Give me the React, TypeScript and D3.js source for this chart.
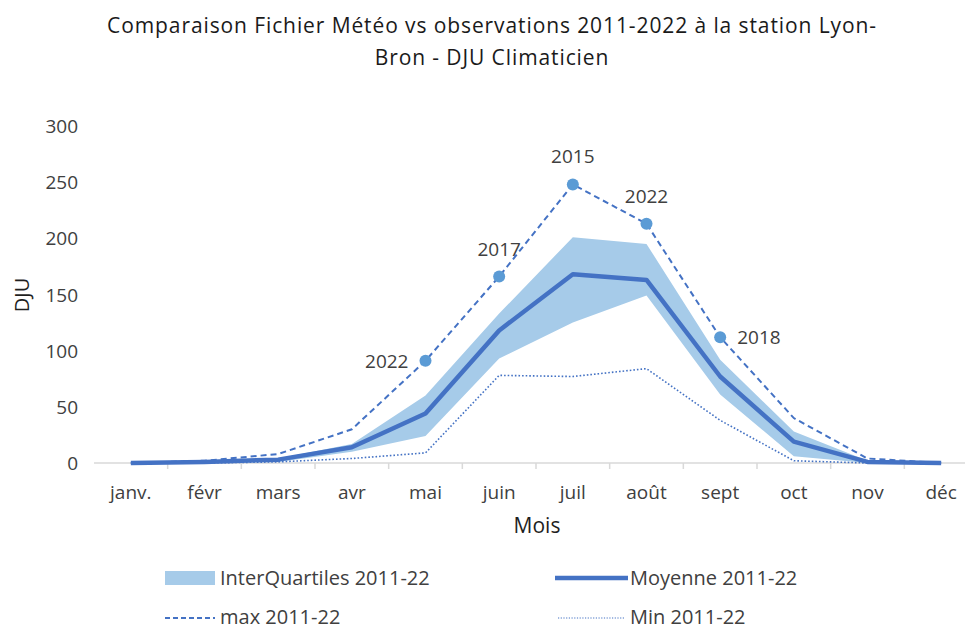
import React, { useEffect, useRef } from "react";
import * as d3 from "d3";

const months = ["janv.", "févr", "mars", "avr", "mai", "juin", "juil", "août", "sept", "oct", "nov", "déc"];
const moyenne = [0, 1, 3, 14, 44, 118, 168, 163, 77, 19, 1, 0];
const maxi = [0, 2, 8, 30, 91, 166, 248, 213, 112, 40, 4, 0];
const mini = [0, 0, 1, 4, 9, 78, 77, 84, 38, 2, 0, 0];
const q3 = [0, 1, 4, 17, 60, 133, 201, 195, 92, 28, 2, 0];
const q1 = [0, 0, 1, 10, 24, 93, 125, 149, 61, 6, 0, 0];
const yTicks = [0, 50, 100, 150, 200, 250, 300];
// années des records affichées sur la courbe max
const recordYears: { idx: number; label: string; pos: "left" | "top" | "right" }[] = [
  { idx: 4, label: "2022", pos: "left" },
  { idx: 5, label: "2017", pos: "top" },
  { idx: 6, label: "2015", pos: "top" },
  { idx: 7, label: "2022", pos: "top" },
  { idx: 8, label: "2018", pos: "right" },
];

const FONT = "'Open Sans', sans-serif";
const BLUE = "#4472C4";
const LIGHT = "#a6cbe9";
const MARK = "#5B9BD5";
const TXT = "#404040";

const App: React.FC = () => {
  const svgRef = useRef<SVGSVGElement>(null);

  useEffect(() => {
    if (!svgRef.current) return;
    const width = 965;
    const height = 630;
    const svg = d3.select(svgRef.current);
    svg.selectAll("*").remove();
    svg.attr("width", width).attr("height", height);

    const x = d3.scaleBand().domain(months).range([94, 978]);
    const cx = (i: number) => (x(months[i]) || 0) + x.bandwidth() / 2;
    const y = d3.scaleLinear().domain([0, 300]).range([463, 126]);

    // titre
    const title = svg
      .append("text")
      .attr("text-anchor", "middle")
      .attr("font-family", FONT)
      .attr("font-size", 21)
      .attr("letter-spacing", 0.9)
      .attr("fill", "#1a1a1a");
    title.append("tspan").attr("x", 492).attr("y", 33).text("Comparaison Fichier Météo vs observations 2011-2022 à la station Lyon-");
    title.append("tspan").attr("x", 492).attr("y", 65).text("Bron - DJU Climaticien");

    // axe y (labels seulement)
    svg
      .append("g")
      .selectAll("text")
      .data(yTicks)
      .join("text")
      .attr("x", 78)
      .attr("y", (d) => y(d) + 7)
      .attr("text-anchor", "end")
      .attr("font-family", FONT)
      .attr("font-size", 19)
      .attr("fill", TXT)
      .text((d) => d);

    svg
      .append("text")
      .attr("transform", "translate(29,295) rotate(-90)")
      .attr("text-anchor", "middle")
      .attr("font-family", FONT)
      .attr("font-size", 20)
      .attr("fill", "#1f1f1f")
      .text("DJU");

    // axe x
    const xAxis = svg.append("g");
    xAxis
      .append("line")
      .attr("x1", 94)
      .attr("x2", 978)
      .attr("y1", y(0))
      .attr("y2", y(0))
      .attr("stroke", "#d9d9d9")
      .attr("stroke-width", 1.5);
    xAxis
      .selectAll("line.tick")
      .data(months.slice(1))
      .join("line")
      .attr("class", "tick")
      .attr("x1", (d) => x(d) || 0)
      .attr("x2", (d) => x(d) || 0)
      .attr("y1", y(0))
      .attr("y2", y(0) + 6)
      .attr("stroke", "#d9d9d9")
      .attr("stroke-width", 1.5);
    xAxis
      .selectAll("text")
      .data(months)
      .join("text")
      .attr("x", (_, i) => cx(i))
      .attr("y", 499)
      .attr("text-anchor", "middle")
      .attr("font-family", FONT)
      .attr("font-size", 19)
      .attr("fill", TXT)
      .text((d) => d);

    svg
      .append("text")
      .attr("x", 537)
      .attr("y", 533)
      .attr("text-anchor", "middle")
      .attr("font-family", FONT)
      .attr("font-size", 21)
      .attr("fill", "#1f1f1f")
      .text("Mois");

    // bande interquartile
    const area = d3
      .area<number>()
      .x((_, i) => cx(i))
      .y0((_, i) => y(q1[i]))
      .y1((d) => y(d));
    svg.append("path").datum(q3).attr("fill", LIGHT).attr("d", area);

    const line = d3
      .line<number>()
      .x((_, i) => cx(i))
      .y((d) => y(d));

    svg
      .append("path")
      .datum(mini)
      .attr("fill", "none")
      .attr("stroke", BLUE)
      .attr("stroke-width", 1.6)
      .attr("stroke-dasharray", "1.6,2")
      .attr("d", line);

    svg
      .append("path")
      .datum(maxi)
      .attr("fill", "none")
      .attr("stroke", BLUE)
      .attr("stroke-width", 2)
      .attr("stroke-dasharray", "6,4")
      .attr("d", line);

    svg
      .append("path")
      .datum(moyenne)
      .attr("fill", "none")
      .attr("stroke", BLUE)
      .attr("stroke-width", 4.5)
      .attr("stroke-linejoin", "round")
      .attr("d", line);

    // points et années des records
    const rec = svg.append("g");
    rec
      .selectAll("circle")
      .data(recordYears)
      .join("circle")
      .attr("cx", (d) => cx(d.idx))
      .attr("cy", (d) => y(maxi[d.idx]))
      .attr("r", 6)
      .attr("fill", MARK);
    rec
      .selectAll("text")
      .data(recordYears)
      .join("text")
      .attr("x", (d) => (d.pos === "left" ? cx(d.idx) - 17 : d.pos === "right" ? cx(d.idx) + 17 : cx(d.idx)))
      .attr("y", (d) => (d.pos === "top" ? y(maxi[d.idx]) - 21 : y(maxi[d.idx]) + 7))
      .attr("text-anchor", (d) => (d.pos === "left" ? "end" : d.pos === "right" ? "start" : "middle"))
      .attr("font-family", FONT)
      .attr("font-size", 19)
      .attr("fill", TXT)
      .text((d) => d.label);

    // légende
    const lg = svg.append("g").attr("font-family", FONT).attr("font-size", 20).attr("fill", TXT);
    lg.append("rect").attr("x", 165).attr("y", 571).attr("width", 50).attr("height", 14).attr("fill", LIGHT);
    lg.append("text").attr("x", 220).attr("y", 585).text("InterQuartiles 2011-22");
    lg.append("line").attr("x1", 555).attr("x2", 628).attr("y1", 578).attr("y2", 578).attr("stroke", BLUE).attr("stroke-width", 4.5);
    lg.append("text").attr("x", 630).attr("y", 585).text("Moyenne 2011-22");
    lg.append("line").attr("x1", 165).attr("x2", 215).attr("y1", 618).attr("y2", 618).attr("stroke", BLUE).attr("stroke-width", 2).attr("stroke-dasharray", "5,3");
    lg.append("text").attr("x", 220).attr("y", 624).text("max 2011-22");
    lg.append("line").attr("x1", 558).attr("x2", 625).attr("y1", 618).attr("y2", 618).attr("stroke", BLUE).attr("stroke-width", 1.2).attr("stroke-dasharray", "1.2,1.5");
    lg.append("text").attr("x", 630).attr("y", 624).text("Min 2011-22");
  }, []);

  return <svg ref={svgRef} style={{ position: "absolute", left: 0, top: 0, background: "#fff" }} />;
};

export default App;
